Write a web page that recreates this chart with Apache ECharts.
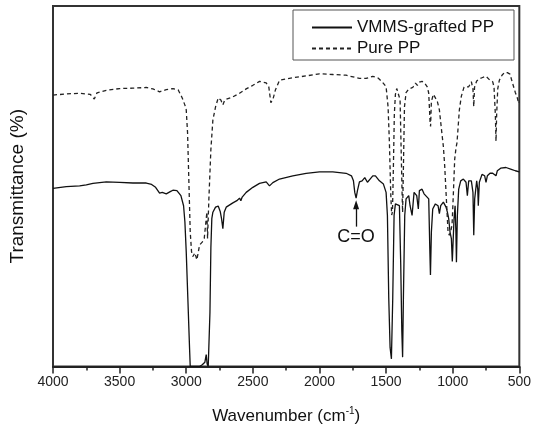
<!DOCTYPE html>
<html>
<head>
<meta charset="utf-8">
<script src="https://cdn.jsdelivr.net/npm/echarts@6/dist/echarts.min.js"></script>
<style>
html,body{margin:0;padding:0;background:#fff;}
#chart{width:534px;height:430px;}
</style>
</head>
<body>
<div id="chart"></div>
<script>
// X tick labels (wavenumber, cm^-1)
const xTicks = [4000, 3500, 3000, 2500, 2000, 1500, 1000, 500];

// Pure PP (dashed)
const pureWn = [4000,3900,3800,3720,3690,3670,3600,3500,3400,3300,3250,3200,3150,3100,3060,3030,3010,3000,2990,2980,2970,2960,2950,2935,2920,2900,2880,2865,2850,2845,2840,2830,2815,2800,2780,2760,2740,2725,2710,2650,2600,2550,2500,2450,2400,2380,2365,2350,2330,2300,2200,2100,2000,1900,1800,1700,1650,1600,1560,1530,1500,1485,1475,1465,1458,1452,1445,1438,1430,1420,1405,1395,1388,1380,1376,1370,1362,1350,1330,1300,1280,1265,1250,1230,1210,1190,1180,1170,1166,1160,1145,1130,1115,1100,1085,1070,1060,1045,1035,1025,1015,1005,995,985,975,968,960,950,935,915,900,880,860,848,842,836,820,800,780,750,720,700,690,680,675,670,662,650,630,610,590,570,550,530,515,505,500];
const pureT  = [75.3,75.6,75.8,75.5,74.2,75.9,76.6,77.1,77.2,77.4,77.0,76.2,76.8,77.1,76.7,74.5,72.5,71.2,64.8,51.1,37.3,31.8,30.5,31.5,29.6,33.7,34.5,35.5,41.0,42.8,35.5,46.5,60.2,68.4,72.0,74.5,73.9,72.6,74.0,74.8,75.8,77.0,78.0,79.1,78.7,77.5,73.2,74.0,76.8,79.4,80.1,80.6,81.2,81.0,80.8,79.9,79.9,80.5,80.0,79.0,77.6,72.0,62.0,48.0,42.0,43.0,55.6,70.0,75.5,77.1,77.0,74.0,62.0,48.3,42.8,55.0,72.0,76.0,77.0,77.4,78.6,78.0,78.9,79.1,78.6,77.5,75.8,68.0,66.6,73.5,75.5,75.0,73.5,71.2,66.0,61.0,55.6,44.6,37.3,36.4,37.5,39.2,48.0,57.5,60.7,62.0,66.0,71.2,75.0,77.5,78.0,77.6,79.0,77.0,72.1,77.5,79.2,79.8,80.1,80.5,79.4,79.0,77.6,70.0,62.5,70.0,77.0,79.4,80.8,81.6,81.5,81.1,78.5,76.0,74.5,73.0,73.5];

// VMMS-grafted PP (solid)
const graftWn = [4000,3900,3800,3750,3700,3600,3500,3400,3300,3260,3230,3200,3180,3150,3120,3100,3070,3040,3020,3010,3000,2988,2975,2970,2900,2880,2860,2850,2843,2835,2828,2822,2815,2808,2800,2780,2760,2745,2735,2725,2715,2700,2650,2620,2600,2590,2580,2550,2500,2450,2400,2375,2350,2300,2200,2100,2000,1900,1800,1760,1745,1735,1725,1715,1700,1680,1660,1640,1620,1600,1580,1550,1520,1500,1490,1480,1470,1460,1455,1450,1440,1430,1415,1400,1390,1382,1376,1370,1360,1350,1330,1320,1305,1290,1270,1258,1250,1230,1215,1200,1180,1172,1167,1160,1150,1130,1110,1100,1090,1070,1050,1040,1030,1020,1010,1003,997,990,982,976,972,965,955,940,920,900,890,880,860,848,842,835,820,812,808,800,780,760,750,740,720,700,690,675,665,640,600,560,530,500];
const graftT  = [49.4,49.9,50.1,50.4,50.8,51.2,51.1,50.9,50.9,50.5,49.7,48.1,48.3,47.9,48.5,48.9,48.8,47.4,44.6,40.1,31.8,19.0,5.0,0,0,0.5,1.2,3.3,0.7,0,0,15.0,33.0,41.0,42.8,44.2,44.5,43.0,41.0,38.2,42.8,44.2,45.4,46.0,46.7,46.0,47.0,48.3,49.7,50.8,51.2,50.1,51.0,52.0,52.9,53.6,54.0,54.0,53.6,52.9,51.5,48.3,46.7,48.8,51.2,51.5,52.4,51.1,52.0,52.9,52.9,51.5,50.6,48.3,41.9,19.0,5.3,2.1,2.6,19.0,41.9,45.1,45.6,44.6,28.2,9.9,2.6,19.0,41.9,46.5,47.4,44.6,41.9,48.3,47.4,43.7,48.8,49.2,47.9,47.4,46.5,32.8,25.4,37.3,43.7,45.1,44.6,42.4,44.6,45.6,44.2,42.8,41.0,37.3,35.5,29.1,28.9,41.0,44.6,37.3,28.9,41.9,49.2,51.5,52.0,51.1,47.4,51.5,51.5,48.3,36.4,46.5,51.5,49.2,44.6,51.1,53.3,52.9,51.1,52.9,53.6,53.6,53.3,52.9,54.3,55.0,55.2,54.7,54.3,54.0];

// C=O annotation position
const coWn = 1725;
const coArrow = [38.8, 44.9];
const coText = 36.0;

const zip = (a, b) => a.map((v, i) => [v, b[i]]);

const chart = echarts.init(document.getElementById('chart'), null, {renderer: 'canvas'});
const font = 'Liberation Sans, Arial, sans-serif';

chart.setOption({
  animation: false,
  backgroundColor: '#fff',
  textStyle: {fontFamily: font, color: '#111'},
  grid: {left: 53, right: 13, top: 6, bottom: 61, show: true, borderColor: '#333', borderWidth: 2, backgroundColor: 'transparent'},
  legend: {
    orient: 'vertical',
    left: 293, top: 10,
    padding: [9, 20, 3, 18],
    itemGap: 4,
    itemWidth: 40, itemHeight: 14,
    borderColor: '#555', borderWidth: 1,
    itemStyle: {opacity: 0},
    textStyle: {fontFamily: font, fontSize: 17, color: '#111'},
    data: ['VMMS-grafted PP', 'Pure PP']
  },
  xAxis: {
    type: 'value', inverse: true, min: 500, max: 4000, interval: 500,
    name: 'Wavenumber (cm{sup|-1})',
    nameLocation: 'middle', nameGap: 40,
    nameTextStyle: {fontFamily: font, fontSize: 17, color: '#111',
      rich: {sup: {fontFamily: font, fontSize: 10, color: '#111', padding: [0, 0, 10, 0]}}},
    axisLine: {show: true, onZero: false, lineStyle: {color: '#222', width: 2}},
    axisTick: {show: true, inside: false, length: 7, lineStyle: {color: '#222', width: 1.5}},
    minorTick: {show: true, splitNumber: 2, length: 4, lineStyle: {color: '#222', width: 1.5}},
    axisLabel: {fontFamily: font, fontSize: 14, color: '#222', margin: 9,
      formatter: v => xTicks.includes(v) ? String(v) : ''},
    splitLine: {show: false}
  },
  yAxis: {
    type: 'value', min: 0, max: 100,
    name: 'Transmittance (%)', nameLocation: 'middle', nameGap: 26,
    nameTextStyle: {fontFamily: font, fontSize: 19, color: '#111'},
    axisLine: {show: false}, axisTick: {show: false}, axisLabel: {show: false},
    splitLine: {show: false}
  },
  series: [
    {
      name: 'VMMS-grafted PP', type: 'line', showSymbol: false, symbol: 'none',
      data: zip(graftWn, graftT),
      lineStyle: {color: '#111', width: 1.3},
      itemStyle: {color: '#111'},
      markLine: {
        silent: true, symbol: ['none', 'triangle'], symbolSize: [6, 9],
        label: {show: false},
        lineStyle: {color: '#111', width: 1.3, type: 'solid'},
        data: [[{coord: [coWn, coArrow[0]]}, {coord: [coWn, coArrow[1]]}]]
      },
      markPoint: {
        silent: true, symbol: 'circle', symbolSize: 0,
        label: {show: true, formatter: 'C=O', fontFamily: font, fontSize: 18, color: '#111', position: 'inside'},
        data: [{coord: [coWn, coText]}]
      }
    },
    {
      name: 'Pure PP', type: 'line', showSymbol: false, symbol: 'none',
      data: zip(pureWn, pureT),
      lineStyle: {color: '#222', width: 1.3, type: [4, 3]},
      itemStyle: {color: '#222'}
    }
  ]
});
</script>
</body>
</html>
